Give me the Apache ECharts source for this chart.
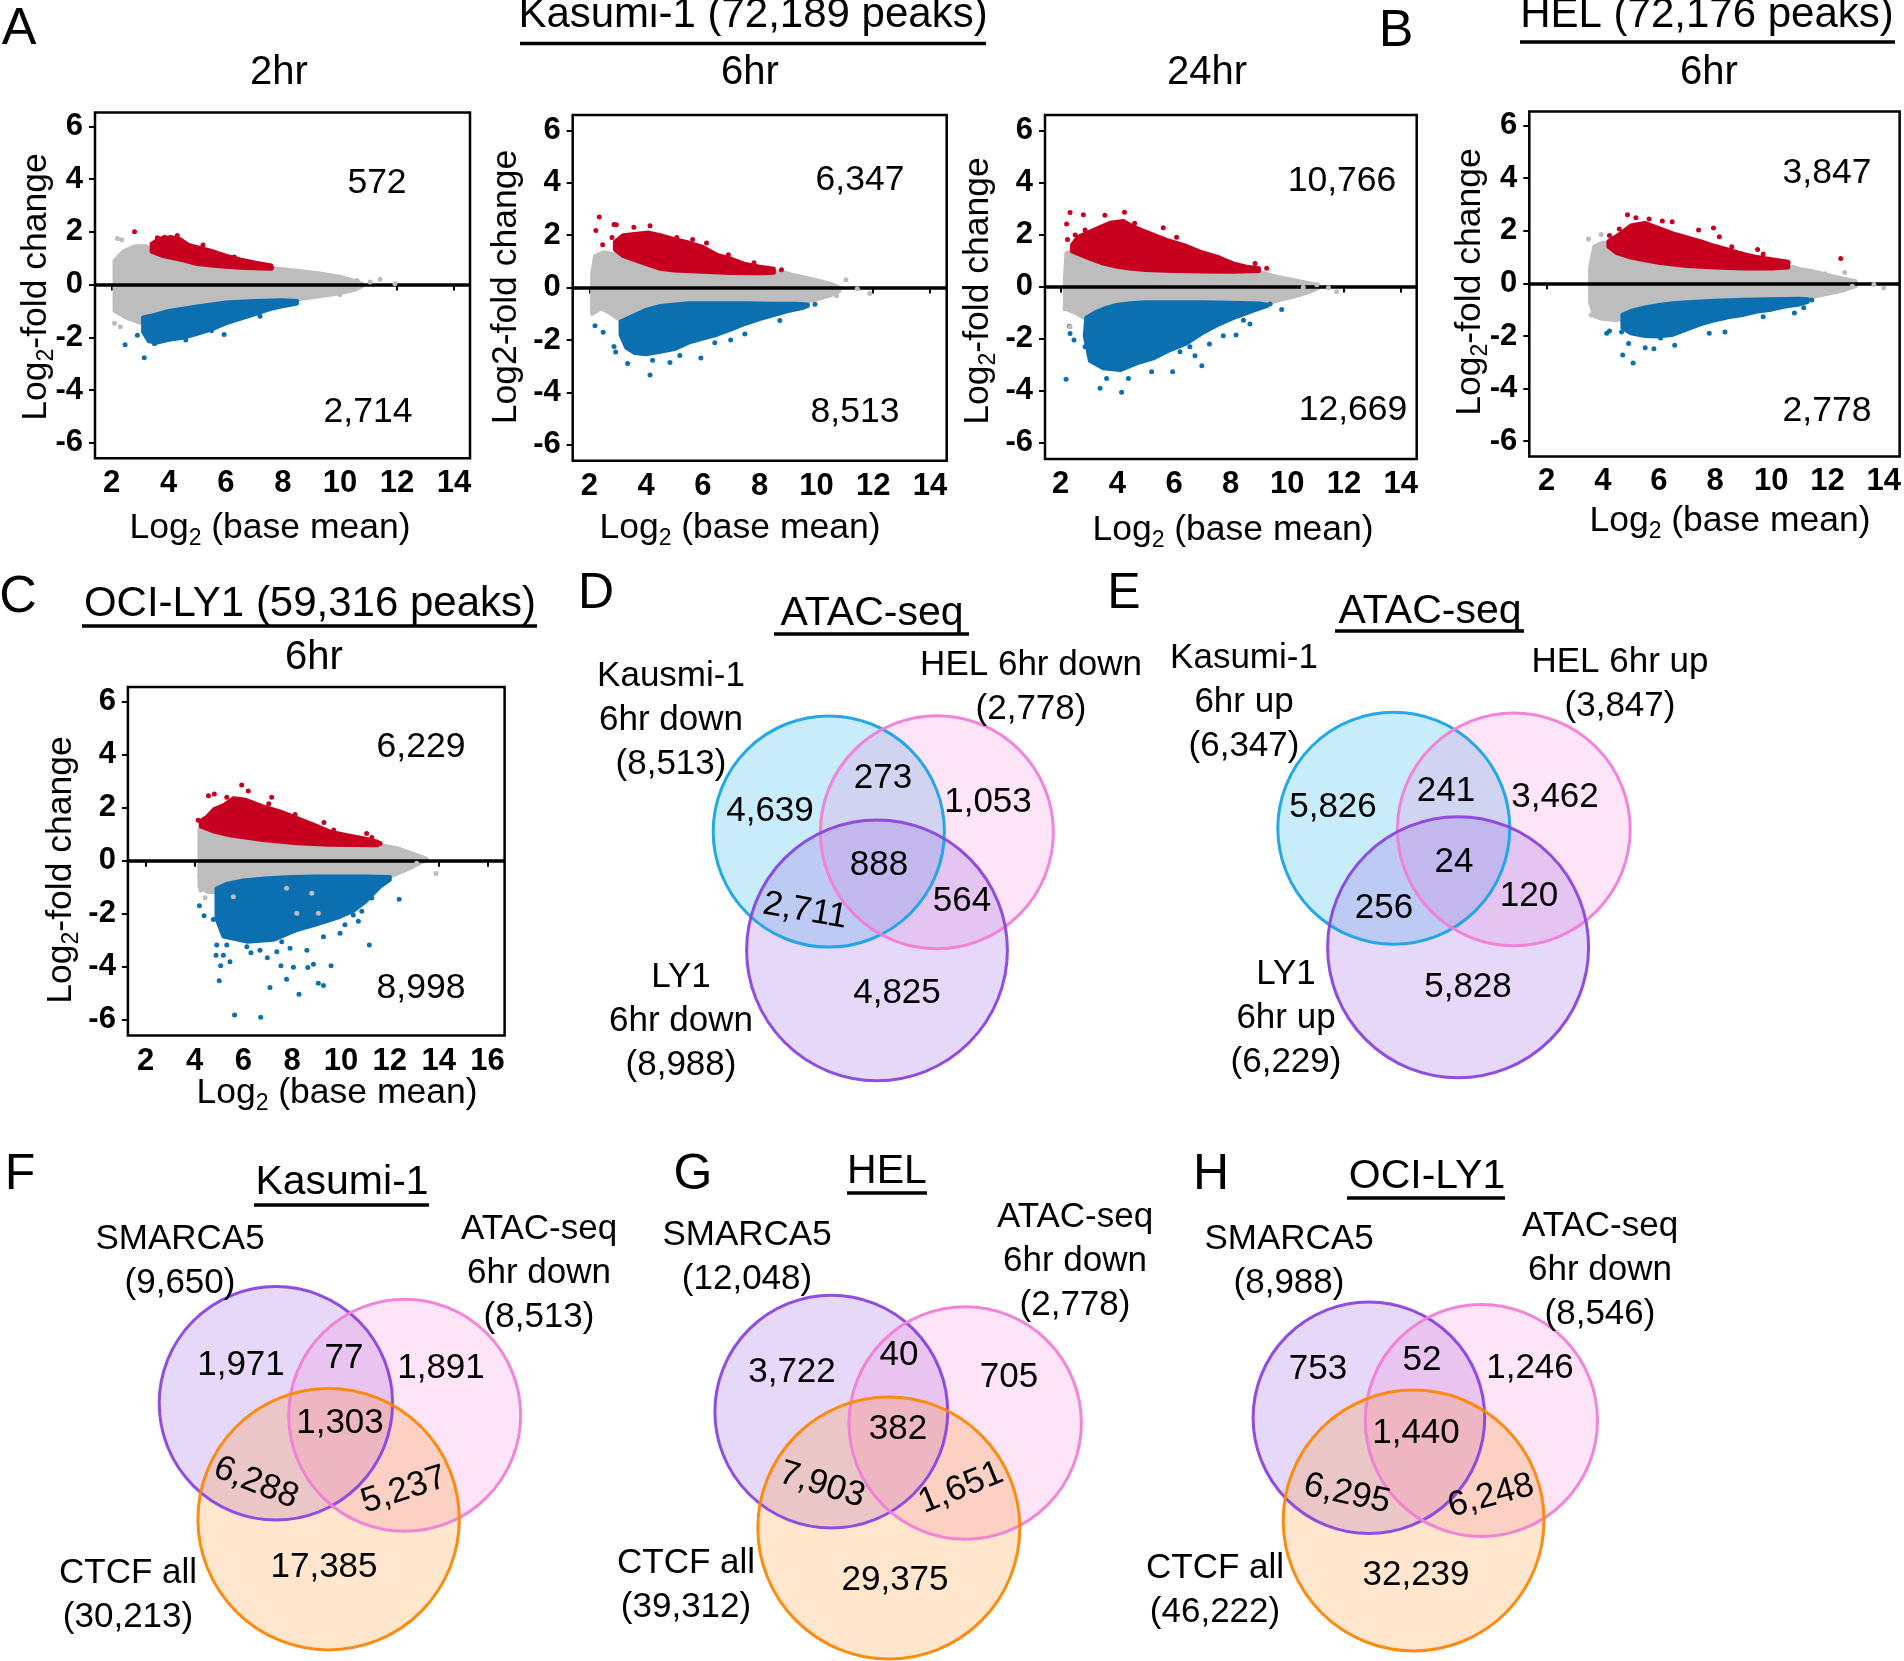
<!DOCTYPE html>
<html>
<head>
<meta charset="utf-8">
<title>ATAC-seq MA plots and Venn diagrams</title>
<script src="https://cdn.jsdelivr.net/npm/echarts@6/dist/echarts.min.js"></script>
<style>
html,body{margin:0;padding:0;background:#fff;}
#chart{width:1904px;height:1661px;}
</style>
</head>
<body>
<div id="chart"></div>
<script>
// ================= tick labels =================
const xTicks14 = [2, 4, 6, 8, 10, 12, 14];
const xTicks16 = [2, 4, 6, 8, 10, 12, 14, 16];
const yTicks = [-6, -4, -2, 0, 2, 4, 6];

// ================= MA plots: cloud envelopes [log2 base mean, log2 fold change] =================
// Kasumi-1 2hr
const k2GrayUpper = [[2.1,0.9],[2.4,1.25],[2.8,1.45],[3.2,1.45],[3.5,1.3],[4,1.1],[5,0.85],[6,0.75],[7,0.68],[7.8,0.6],[8.5,0.52],[9.3,0.42],[10,0.3],[10.5,0.15],[10.8,0.02]];
const k2GrayLower = [[2.1,-1.0],[2.5,-1.25],[3,-1.45],[3.5,-1.3],[4,-1.1],[5,-0.9],[6,-0.75],[7,-0.68],[8,-0.6],[8.6,-0.55],[9.2,-0.45],[10,-0.33],[10.5,-0.2],[10.8,-0.05]];
const k2RedUpper = [[3.4,1.55],[3.7,1.75],[4.1,1.8],[4.4,1.72],[4.7,1.5],[5,1.42],[5.5,1.28],[6,1.1],[6.5,0.95],[7,0.84],[7.6,0.72]];
const k2RedLower = [[3.4,1.25],[3.8,1.08],[4.5,0.92],[5,0.78],[5.5,0.72],[6,0.68],[6.5,0.64],[7,0.62],[7.6,0.6]];
const k2BlueUpper = [[3.1,-1.25],[3.5,-1.15],[4,-1.0],[5,-0.83],[6,-0.68],[7,-0.62],[8,-0.6],[8.5,-0.62]];
const k2BlueLower = [[3.1,-1.8],[3.3,-2.15],[3.6,-2.2],[4,-2.1],[4.5,-2.02],[5,-1.87],[5.5,-1.7],[6,-1.47],[6.5,-1.3],[7,-1.13],[7.5,-0.95],[8,-0.82],[8.5,-0.72]];
const k2RedOut = [[2.8,2.0],[3.6,1.78],[3.85,1.8],[4.05,1.78],[4.3,1.86],[5.2,1.5],[6.3,1.05],[7.6,0.64]];
const k2BlueOut = [[2.47,-2.28],[3.14,-2.78],[2.9,-1.92],[3.5,-2.25],[4.6,-2.1],[5.5,-1.75],[5.94,-1.9],[7.2,-1.2],[8.4,-0.68]];
const k2GrayOut = [[2.2,1.75],[2.35,1.7],[2.1,-1.47],[2.3,-1.6],[10.6,0.15],[11.06,0.1],[11.41,0.2],[11.93,0.03],[10.0,-0.38]];

// Kasumi-1 6hr
const k6GrayUpper = [[2.1,0.5],[2.2,1.2],[2.5,1.35],[3,1.25],[3.5,1.1],[4,0.9],[5,0.72],[6,0.65],[7,0.6],[8,0.6],[8.8,0.6],[9.3,0.45],[10,0.28],[10.5,0.15],[10.8,0.0]];
const k6GrayLower = [[2.1,-1.0],[2.4,-0.8],[2.7,-0.95],[3.1,-1.25],[3.5,-1.0],[4,-0.75],[5,-0.65],[6,-0.62],[7,-0.62],[8,-0.62],[9,-0.6],[9.6,-0.55],[10,-0.45],[10.5,-0.3],[10.8,-0.15]];
const k6RedUpper = [[2.9,1.75],[3.2,2.0],[3.6,2.05],[4.1,2.1],[4.5,2.0],[5,1.85],[5.5,1.72],[6,1.55],[6.5,1.25],[7,1.1],[7.5,0.9],[8,0.8],[8.5,0.72]];
const k6RedLower = [[2.9,1.45],[3.2,1.2],[3.6,1.05],[4,0.9],[4.5,0.72],[5,0.65],[6,0.6],[7,0.56],[8,0.55],[8.5,0.57]];
const k6BlueUpper = [[3.1,-1.3],[3.5,-1.1],[4,-0.85],[4.5,-0.7],[5.5,-0.6],[6.5,-0.6],[7.5,-0.6],[8.5,-0.62],[9.3,-0.62],[9.7,-0.65]];
const k6BlueLower = [[3.1,-1.8],[3.3,-2.3],[3.6,-2.5],[4,-2.55],[4.5,-2.45],[5,-2.35],[5.5,-2.1],[6,-1.95],[6.5,-1.8],[7,-1.6],[7.5,-1.38],[8,-1.2],[8.5,-1.05],[9,-0.9],[9.5,-0.78],[9.7,-0.7]];
const k6RedOut = [[2.35,2.7],[2.23,2.18],[2.47,1.64],[2.8,1.91],[2.87,2.41],[2.95,2.4],[3.57,2.3],[4.14,2.36],[5.08,1.91],[5.64,1.84],[6.13,1.7],[6.9,1.25],[7.8,0.95],[8.77,0.68]];
const k6BlueOut = [[2.2,-1.46],[2.49,-1.71],[2.87,-2.25],[2.93,-2.46],[3.35,-2.9],[4.14,-3.34],[4.23,-2.77],[4.84,-2.86],[5.19,-2.59],[5.93,-2.69],[6.42,-2.11],[6.98,-2.0],[7.48,-1.77],[8.71,-1.26],[9.24,-0.72],[9.95,-0.64]];
const k6GrayOut = [[2.18,0.5],[2.16,-0.23],[11.04,0.3],[11.44,-0.04],[11.88,-0.23],[10.71,-0.31]];

// Kasumi-1 24hr
const k24GrayUpper = [[2.15,0.3],[2.2,1.28],[2.5,1.4],[2.8,1.25],[3.2,1.0],[4,0.8],[5,0.7],[6,0.65],[7,0.62],[8,0.6],[9,0.57],[9.6,0.38],[10.2,0.25],[10.8,0.12],[11.1,0.05]];
const k24GrayLower = [[2.15,-0.84],[2.5,-1.0],[2.9,-1.25],[3.2,-1.1],[3.5,-0.9],[4,-0.72],[5,-0.65],[6,-0.62],[7,-0.62],[8,-0.62],[9,-0.65],[9.3,-0.65],[9.7,-0.52],[10.2,-0.39],[10.8,-0.2],[11.1,-0.05]];
const k24RedUpper = [[2.4,1.6],[2.6,1.9],[3.15,2.17],[3.74,2.45],[4.21,2.52],[4.56,2.3],[5.15,2.04],[5.74,1.79],[6.33,1.6],[6.92,1.34],[7.51,1.15],[8.09,0.89],[8.56,0.76],[9,0.7]];
const k24RedLower = [[2.4,1.35],[3,1.08],[3.5,0.88],[4,0.76],[4.5,0.68],[5,0.64],[6,0.6],[7,0.58],[8,0.57],[9,0.6]];
const k24BlueUpper = [[2.9,-1.2],[3.2,-1.0],[3.6,-0.82],[4,-0.7],[4.5,-0.64],[5,-0.6],[6,-0.6],[7,-0.6],[8,-0.62],[9,-0.65],[9.3,-0.7]];
const k24BlueLower = [[2.85,-1.9],[3.03,-2.85],[3.5,-3.14],[4.1,-3.21],[4.68,-2.95],[5.27,-2.76],[5.86,-2.44],[6.45,-2.18],[7.04,-1.76],[7.62,-1.43],[8.21,-1.16],[8.8,-0.92],[9.3,-0.74]];
const k24RedOut = [[2.33,2.84],[2.8,2.76],[2.21,2.4],[2.24,1.81],[2.51,1.98],[2.86,2.17],[2.54,1.54],[3.56,2.74],[4.25,2.85],[4.61,2.43],[5.62,2.26],[6.09,1.89],[7.6,1.1],[8.86,0.89],[9.27,0.7]];
const k24BlueOut = [[2.19,-3.56],[2.31,-1.52],[2.33,-1.8],[2.47,-2.05],[2.86,-2.31],[3.39,-3.91],[3.62,-3.53],[4.15,-4.06],[4.39,-3.53],[5.21,-3.27],[5.95,-3.27],[6.21,-2.5],[6.56,-2.31],[6.74,-2.66],[6.98,-3.04],[7.25,-2.21],[7.74,-1.89],[8.19,-1.86],[8.45,-1.29],[8.68,-1.44],[9.39,-0.67],[9.8,-0.88]];
const k24GrayOut = [[2.15,-0.85],[2.33,-1.54],[10.56,-0.03],[11.04,0.07],[11.45,-0.05],[11.74,-0.2]];

// HEL 6hr
const helGrayUpper = [[3.55,0.6],[3.7,1.4],[4,1.55],[4.3,1.5],[4.6,1.3],[5,1.1],[5.5,0.95],[6,0.85],[7,0.75],[8,0.68],[9,0.65],[10,0.62],[10.8,0.62],[11,0.55],[11.5,0.45],[12,0.32],[12.5,0.2],[13,0.08]];
const helGrayLower = [[3.55,-0.7],[3.7,-1.25],[4,-1.35],[4.5,-1.4],[4.8,-1.3],[5,-1.15],[5.5,-1.0],[6,-0.9],[7,-0.78],[8,-0.68],[9,-0.62],[10,-0.6],[11,-0.55],[11.5,-0.5],[12,-0.4],[12.5,-0.28],[13,-0.1]];
const helRedUpper = [[4.2,1.6],[4.5,1.8],[5,2.2],[5.5,2.3],[6,2.1],[6.5,1.9],[7,1.75],[7.5,1.6],[8,1.42],[8.5,1.27],[9,1.12],[9.5,1.0],[10,0.92],[10.6,0.82]];
const helRedLower = [[4.2,1.4],[4.5,1.15],[5,0.98],[5.5,0.88],[6,0.78],[6.5,0.72],[7,0.66],[8,0.6],[9,0.57],[10,0.57],[10.6,0.6]];
const helBlueUpper = [[4.7,-1.2],[5,-1.05],[5.5,-0.92],[6,-0.82],[6.5,-0.76],[7,-0.72],[8,-0.66],[9,-0.62],[10,-0.6],[11,-0.58],[11.3,-0.6]];
const helBlueLower = [[4.7,-1.7],[5,-1.9],[5.5,-2.0],[6,-2.02],[6.5,-1.95],[7,-1.75],[7.5,-1.55],[8,-1.4],[8.5,-1.28],[9,-1.2],[9.5,-1.07],[10,-1.0],[10.5,-0.88],[11,-0.8],[11.3,-0.7]];
const helRedOut = [[4.24,1.82],[4.59,2.07],[4.88,2.61],[5.18,2.5],[5.65,2.45],[6.12,2.37],[6.47,2.34],[7.41,2.03],[7.94,2.11],[8.15,1.77],[8.59,1.39],[9.51,1.29],[9.71,1.12],[10.59,0.78],[12.47,0.95]];
const helBlueOut = [[4.14,-1.9],[4.24,-1.81],[4.67,-1.85],[4.71,-2.72],[4.92,-2.29],[5.08,-3.03],[5.51,-2.45],[5.82,-2.49],[6.06,-2.08],[6.56,-2.35],[7.79,-1.9],[8.35,-1.85],[9.71,-1.27],[10.82,-1.13],[11.15,-0.93],[11.44,-0.63]];
const helGrayOut = [[3.49,1.69],[3.94,1.86],[3.59,-0.79],[3.59,-1.2],[11.91,0.37],[12.61,0.41],[12.88,-0.11],[13.65,-0.04],[14.0,-0.18]];

// OCI-LY1 6hr
const ly1GrayUpper = [[4.2,1.2],[4.4,1.3],[5,1.15],[6,1.0],[7,0.9],[8,0.8],[9,0.7],[10,0.62],[11,0.58],[11.6,0.58],[12.3,0.47],[13.1,0.21],[13.5,0.08]];
const ly1GrayLower = [[4.2,-0.98],[4.5,-1.17],[4.9,-1.2],[5.3,-0.95],[6,-0.8],[7,-0.7],[8,-0.65],[9,-0.62],[10,-0.6],[11,-0.6],[12,-0.6],[12.8,-0.29],[13.3,-0.05],[13.5,0.0]];
const ly1RedUpper = [[4.25,1.5],[4.5,1.65],[4.8,1.95],[5.2,2.1],[5.6,2.36],[6.1,2.3],[6.8,2.05],[7.5,1.86],[8.2,1.61],[8.9,1.35],[9.55,1.1],[10.2,0.97],[10.9,0.85],[11.5,0.72]];
const ly1RedLower = [[4.25,1.3],[4.8,1.1],[5.5,0.95],[6.8,0.78],[8.2,0.66],[9.5,0.6],[11.5,0.58]];
const ly1BlueUpper = [[4.9,-1.05],[5.3,-0.88],[6,-0.75],[7,-0.66],[8,-0.62],[9,-0.6],[10,-0.6],[11,-0.6],[12,-0.62]];
const ly1BlueLower = [[4.9,-2.2],[5.18,-2.87],[6.14,-3.06],[7.23,-2.99],[8.19,-2.62],[9.14,-2.37],[9.96,-2.12],[10.5,-1.9],[11,-1.55],[11.6,-0.98],[12,-0.72]];
const ly1RedOut = [[4.15,1.53],[4.57,2.45],[4.81,2.52],[5.32,2.4],[5.93,2.86],[6.2,2.63],[7.04,2.15],[7.16,2.4],[8.12,1.75],[9.3,1.44],[9.7,1.16],[11.05,1.03],[11.26,0.88],[11.6,0.65]];
const ly1BlueOut = [[4.2,-1.7],[4.39,-2.08],[4.77,-2.22],[4.91,-3.19],[4.88,-3.57],[5.18,-3.57],[5.07,-3.97],[5.01,-4.54],[5.32,-3.19],[5.45,-3.82],[5.64,-5.83],[6.14,-3.25],[6.31,-3.48],[6.68,-3.38],[6.71,-5.92],[6.98,-3.67],[7.09,-4.79],[7.37,-3.44],[7.54,-3.97],[7.57,-3.06],[7.77,-4.48],[7.91,-3.31],[8.05,-4.03],[8.28,-5.05],[8.6,-3.38],[8.64,-4.04],[8.87,-3.91],[9.07,-4.63],[9.28,-4.72],[9.28,-2.87],[9.59,-3.97],[9.96,-2.74],[10.16,-2.42],[10.5,-2.05],[10.71,-2.29],[10.85,-1.91],[11.16,-3.19],[11.26,-1.41],[11.6,-0.84],[12.38,-1.46]];
const ly1GrayOut = [[4.22,-0.54],[4.25,-1.11],[4.43,-1.4],[5.59,-1.36],[7.77,-1.04],[8.8,-1.23],[8.19,-1.99],[9.07,-1.99],[13.1,-0.1],[13.89,-0.48]];

// significant peak counts (up, down) and total peaks
const maCounts = [[572, 2714], [6347, 8513], [10766, 12669], [3847, 2778], [6229, 8998]];
const maTimes = ['2hr', '6hr', '24hr', '6hr', '6hr'];
const peakTotals = { 'Kasumi-1': 72189, 'HEL': 72176, 'OCI-LY1': 59316 };

// ================= Venn values =================
// regions order: A only, A∩B, B only, A∩B∩C, A∩C, B∩C, C only
const vennDSets = ['Kausmi-1\n6hr down', 'HEL 6hr down', 'LY1\n6hr down'];
const vennDTotals = [8513, 2778, 8988];
const vennDRegions = [4639, 273, 1053, 888, 2711, 564, 4825];
const vennESets = ['Kasumi-1\n6hr up', 'HEL 6hr up', 'LY1\n6hr up'];
const vennETotals = [6347, 3847, 6229];
const vennERegions = [5826, 241, 3462, 24, 256, 120, 5828];
const vennFSets = ['SMARCA5', 'ATAC-seq\n6hr down', 'CTCF all'];
const vennFTotals = [9650, 8513, 30213];
const vennFRegions = [1971, 77, 1891, 1303, 6288, 5237, 17385];
const vennGSets = ['SMARCA5', 'ATAC-seq\n6hr down', 'CTCF all'];
const vennGTotals = [12048, 2778, 39312];
const vennGRegions = [3722, 40, 705, 382, 7903, 1651, 29375];
const vennHSets = ['SMARCA5', 'ATAC-seq\n6hr down', 'CTCF all'];
const vennHTotals = [8988, 8546, 46222];
const vennHRegions = [753, 52, 1246, 1440, 6295, 6248, 32239];

// ================= styling / layout =================
const FONT = '"Liberation Sans", Arial, Helvetica, sans-serif';
const RED = '#c8001f', BLUE = '#0b6fb0', GRAY = '#bdbdbd';
const fmt = n => n.toLocaleString('en-US');

const maLayout = [
  { box: [95, 112.5, 375, 345.7], x: [1.415, 14.56], y: [-6.59, 6.53], ticks: xTicks14,
    num: [[377, 183], [368, 412]], time: [279, 73], ytitle: [36, 287], xtitle: [270, 528], sub: true },
  { box: [572.7, 115, 374, 345.7], x: [1.415, 14.59], y: [-6.61, 6.59], ticks: xTicks14,
    num: [[860, 180], [855, 412]], time: [750, 73], ytitle: [506, 287], xtitle: [740, 528], sub: false },
  { box: [1045, 115, 371.7, 343.9], x: [1.446, 14.565], y: [-6.62, 6.59], ticks: xTicks14,
    num: [[1342, 181], [1353, 410]], time: [1207, 73], ytitle: [978, 291], xtitle: [1233, 530], sub: true },
  { box: [1529.3, 111.4, 373.4, 345], x: [1.386, 14.565], y: [-6.58, 6.54], ticks: xTicks14,
    num: [[1827, 173], [1827, 411]], time: [1709, 73], ytitle: [1470, 282], xtitle: [1730, 521], sub: true },
  { box: [127.9, 687.1, 376.7, 348.5], x: [1.27, 16.7], y: [-6.61, 6.56], ticks: xTicks16,
    num: [[421, 747], [421, 988]], time: [314, 658], ytitle: [61, 870], xtitle: [337, 1093], sub: true }
];
const maData = [
  { gu: k2GrayUpper, gl: k2GrayLower, ru: k2RedUpper, rl: k2RedLower, bu: k2BlueUpper, bl: k2BlueLower, ro: k2RedOut, bo: k2BlueOut, go: k2GrayOut },
  { gu: k6GrayUpper, gl: k6GrayLower, ru: k6RedUpper, rl: k6RedLower, bu: k6BlueUpper, bl: k6BlueLower, ro: k6RedOut, bo: k6BlueOut, go: k6GrayOut },
  { gu: k24GrayUpper, gl: k24GrayLower, ru: k24RedUpper, rl: k24RedLower, bu: k24BlueUpper, bl: k24BlueLower, ro: k24RedOut, bo: k24BlueOut, go: k24GrayOut },
  { gu: helGrayUpper, gl: helGrayLower, ru: helRedUpper, rl: helRedLower, bu: helBlueUpper, bl: helBlueLower, ro: helRedOut, bo: helBlueOut, go: helGrayOut },
  { gu: ly1GrayUpper, gl: ly1GrayLower, ru: ly1RedUpper, rl: ly1RedLower, bu: ly1BlueUpper, bl: ly1BlueLower, ro: ly1RedOut, bo: ly1BlueOut, go: ly1GrayOut }
];

const VC = {
  blue:   { stroke: 'rgba(25,163,232,0.95)',  fill: 'rgba(35,179,231,0.25)' },
  pink:   { stroke: 'rgba(240,126,214,0.95)', fill: 'rgba(245,120,210,0.20)' },
  purple: { stroke: 'rgba(138,68,222,0.95)',  fill: 'rgba(155,99,227,0.25)' },
  orange: { stroke: 'rgba(251,136,10,0.97)',  fill: 'rgba(255,130,0,0.20)' }
};
// Venn panel layouts (page pixel units on a hidden full-page axis)
const vennLayout = [
  { sets: vennDSets, totals: vennDTotals, regions: vennDRegions, colors: ['blue', 'pink', 'purple'],
    circles: [[828.8, 831.5, 115.6], [936.9, 832.3, 116.5], [877, 950.3, 130.4]],
    setPos: [[671, 720], [1031, 687], [681, 1021]],
    regPos: [[770, 811, 0], [883, 778, 0], [988, 802, 0], [879, 865, 0], [805, 911, -10], [962, 901, 0], [897, 993, 0]],
    letter: ['D', 596, 594], title: ['ATAC-seq', 872, 614, 774, 969, 634] },
  { sets: vennESets, totals: vennETotals, regions: vennERegions, colors: ['blue', 'pink', 'purple'],
    circles: [[1393.8, 828.3, 116], [1513.8, 829.3, 116.4], [1458.1, 947.3, 130.5]],
    setPos: [[1244, 702], [1620, 684], [1286, 1018]],
    regPos: [[1333, 807, 0], [1446, 791, 0], [1555, 797, 0], [1454, 862, 0], [1384, 908, 0], [1529, 896, 0], [1468, 987, 0]],
    letter: ['E', 1124, 594], title: ['ATAC-seq', 1430, 612, 1335, 1524, 631] },
  { sets: vennFSets, totals: vennFTotals, regions: vennFRegions, colors: ['purple', 'pink', 'orange'],
    circles: [[275.9, 1403.3, 116.7], [404.7, 1415.3, 116], [328.6, 1519.2, 130.7]],
    setPos: [[180, 1261], [539, 1273], [128, 1595]],
    regPos: [[241, 1365, 0], [344, 1358, 0], [441, 1368, 0], [340, 1423, 0], [256, 1483, -22], [404, 1490, 18], [324, 1567, 0]],
    letter: ['F', 20, 1175], title: ['Kasumi-1', 342, 1183, 254, 429, 1205] },
  { sets: vennGSets, totals: vennGTotals, regions: vennGRegions, colors: ['purple', 'pink', 'orange'],
    circles: [[831.3, 1411.7, 116.4], [965.2, 1423, 116.2], [888.8, 1528, 131]],
    setPos: [[747, 1257], [1075, 1261], [686, 1585]],
    regPos: [[792, 1372, 0], [899, 1355, 0], [1009, 1377, 0], [898, 1429, 0], [822, 1485, -17], [961, 1488, 22], [895, 1580, 0]],
    letter: ['G', 693, 1175], title: ['HEL', 887, 1172, 847, 927, 1193] },
  { sets: vennHSets, totals: vennHTotals, regions: vennHRegions, colors: ['purple', 'pink', 'orange'],
    circles: [[1368.9, 1417.8, 115.8], [1481.4, 1420.5, 116.1], [1413.6, 1520.5, 130.4]],
    setPos: [[1289, 1261], [1600, 1270], [1215, 1590]],
    regPos: [[1318, 1369, 0], [1422, 1360, 0], [1530, 1368, 0], [1416, 1433, 0], [1347, 1494, -12], [1491, 1496, 15], [1416, 1575, 0]],
    letter: ['H', 1211, 1175], title: ['OCI-LY1', 1427, 1177, 1347, 1505, 1198] }
];

// ================= builders =================
function T(x, y, text, size, opt) {
  opt = opt || {};
  return {
    type: 'text', x: x, y: y, z: 100, rotation: opt.rotation || 0, silent: true,
    style: {
      text: text, fontSize: size, fontFamily: FONT, fontWeight: opt.weight || 'normal', fill: '#000',
      align: 'center', verticalAlign: 'middle', lineHeight: opt.lineHeight || Math.round(size * 1.2),
      legacy: false
    }
  };
}
function logText(x, y, after, size, rotation) {
  return {
    type: 'text', x: x, y: y, z: 100, rotation: rotation || 0, silent: true,
    style: {
      text: '{a|Log}{s|2}{a|' + after + '}',
      align: 'center', verticalAlign: 'middle', legacy: false,
      rich: {
        a: { fontSize: size, fontFamily: FONT, fill: '#000', lineHeight: Math.round(size * 1.25) },
        s: { fontSize: Math.round(size * 0.66), fontFamily: FONT, fill: '#000', verticalAlign: 'bottom', lineHeight: Math.round(size * 0.72) }
      }
    }
  };
}
function uline(x1, x2, y) {
  return { type: 'line', z: 100, silent: true, shape: { x1: x1, y1: y, x2: x2, y2: y }, style: { stroke: '#000', lineWidth: 3.5 } };
}
function band(gi, upper, lower, color, z) {
  const ring = upper.concat(lower.slice().reverse());
  return {
    type: 'custom', xAxisIndex: gi, yAxisIndex: gi, z: z, silent: true,
    data: [upper[0]],
    renderItem: function (params, api) {
      return {
        type: 'polygon',
        shape: { points: ring.map(function (p) { return api.coord(p); }) },
        style: { fill: color, stroke: color, lineWidth: 4, lineJoin: 'round' }
      };
    }
  };
}
function dots(gi, data, color, z, extra) {
  return Object.assign({
    type: 'scatter', xAxisIndex: gi, yAxisIndex: gi, z: z, silent: true,
    symbol: 'circle', symbolSize: 5, itemStyle: { color: color, opacity: 1 }, data: data
  }, extra || {});
}

const grids = [], xAxes = [], yAxes = [], series = [], graphics = [];

maLayout.forEach(function (L, i) {
  const D = maData[i];
  grids.push({ left: L.box[0], top: L.box[1], width: L.box[2], height: L.box[3], show: true,
    borderColor: '#000', borderWidth: 2.5, backgroundColor: 'transparent', containLabel: false });
  const tickStyle = { show: true, inside: false, length: 6, lineStyle: { color: '#000', width: 2 } };
  xAxes.push({ gridIndex: i, type: 'value', min: L.x[0], max: L.x[1],
    axisLine: { show: false }, splitLine: { show: false },
    axisTick: Object.assign({ customValues: L.ticks }, tickStyle),
    axisLabel: { customValues: L.ticks, fontSize: 31, fontWeight: 'bold', fontFamily: FONT, color: '#000', margin: 10 } });
  yAxes.push({ gridIndex: i, type: 'value', min: L.y[0], max: L.y[1],
    axisLine: { show: false }, splitLine: { show: false },
    axisTick: Object.assign({ customValues: yTicks }, tickStyle),
    axisLabel: { customValues: yTicks, fontSize: 31, fontWeight: 'bold', fontFamily: FONT, color: '#000', margin: 12 } });

  series.push(band(i, D.gu, D.gl, GRAY, 2));
  series.push(band(i, D.ru, D.rl, RED, 3));
  series.push(band(i, D.bu, D.bl, BLUE, 3));
  series.push(dots(i, D.ro, RED, 4));
  series.push(dots(i, D.bo, BLUE, 4));
  series.push(dots(i, D.go, GRAY, 6, {
    markLine: { silent: true, symbol: ['none', 'none'], label: { show: false },
      lineStyle: { color: '#000', width: 3.5, type: 'solid' }, data: [{ yAxis: 0 }] }
  }));

  graphics.push(T(L.num[0][0], L.num[0][1], fmt(maCounts[i][0]), 35.5));
  graphics.push(T(L.num[1][0], L.num[1][1], fmt(maCounts[i][1]), 35.5));
  graphics.push(T(L.time[0], L.time[1], maTimes[i], 40));
  if (L.sub) graphics.push(logText(L.ytitle[0], L.ytitle[1], '-fold change', 35.5, Math.PI / 2));
  else graphics.push(T(L.ytitle[0], L.ytitle[1], 'Log2-fold change', 35.5, { rotation: Math.PI / 2 }));
  graphics.push(logText(L.xtitle[0], L.xtitle[1], ' (base mean)', 35.5, 0));
});

// MA panel letters and group titles
graphics.push(T(19, 30, 'A', 52));
graphics.push(T(1396, 32, 'B', 52));
graphics.push(T(18, 598, 'C', 52));
graphics.push(T(753, 15, 'Kasumi-1 (' + fmt(peakTotals['Kasumi-1']) + ' peaks)', 42));
graphics.push(uline(520, 986, 43.6));
graphics.push(T(1707, 15, 'HEL (' + fmt(peakTotals['HEL']) + ' peaks)', 42));
graphics.push(uline(1520, 1895, 42.1));
graphics.push(T(310, 604, 'OCI-LY1 (' + fmt(peakTotals['OCI-LY1']) + ' peaks)', 42));
graphics.push(uline(82, 537, 626));

// Venn: hidden full-page coordinate system
const VG = grids.length;
grids.push({ left: 0, top: 0, width: 1904, height: 1661, show: false });
xAxes.push({ gridIndex: VG, type: 'value', min: 0, max: 1904, show: false });
yAxes.push({ gridIndex: VG, type: 'value', min: 0, max: 1661, inverse: true, show: false });

const vennCircleData = [];
vennLayout.forEach(function (V) {
  V.circles.forEach(function (c, k) {
    vennCircleData.push([c[0], c[1], c[2], V.colors[k]]);
  });
  V.sets.forEach(function (s, k) {
    graphics.push(T(V.setPos[k][0], V.setPos[k][1], s + '\n(' + fmt(V.totals[k]) + ')', 35, { lineHeight: 44 }));
  });
  V.regions.forEach(function (n, k) {
    const p = V.regPos[k];
    graphics.push(T(p[0], p[1], fmt(n), 35, { rotation: p[2] * Math.PI / 180 }));
  });
  graphics.push(T(V.letter[1], V.letter[2], V.letter[0], 50));
  graphics.push(T(V.title[1], V.title[2], V.title[0], 41));
  graphics.push(uline(V.title[3], V.title[4], V.title[5]));
});
function circleSeries(data, mode, z) {
  return {
    type: 'custom', xAxisIndex: VG, yAxisIndex: VG, z: z, silent: true,
    dimensions: ['x', 'y', 'r', 'c'],
    encode: { x: 0, y: 1 },
    data: data.map(function (d) { return [d[0], d[1], d[2], 0]; }),
    renderItem: function (params, api) {
      const d = data[params.dataIndex];
      const p = api.coord([d[0], d[1]]);
      const s = api.size([d[2], d[2]]);
      const col = VC[d[3]];
      return {
        type: 'circle',
        shape: { cx: p[0], cy: p[1], r: (s[0] + s[1]) / 2 },
        style: mode === 'fill' ? { fill: col.fill, stroke: null } : { fill: null, stroke: col.stroke, lineWidth: 3 }
      };
    }
  };
}
series.push(circleSeries(vennCircleData, 'fill', 1));
series.push(circleSeries(vennCircleData, 'stroke', 2));

const chart = echarts.init(document.getElementById('chart'), null, { renderer: 'canvas' });
chart.setOption({
  animation: false,
  backgroundColor: '#fff',
  grid: grids,
  xAxis: xAxes,
  yAxis: yAxes,
  series: series,
  graphic: { elements: graphics }
});
</script>
</body>
</html>
